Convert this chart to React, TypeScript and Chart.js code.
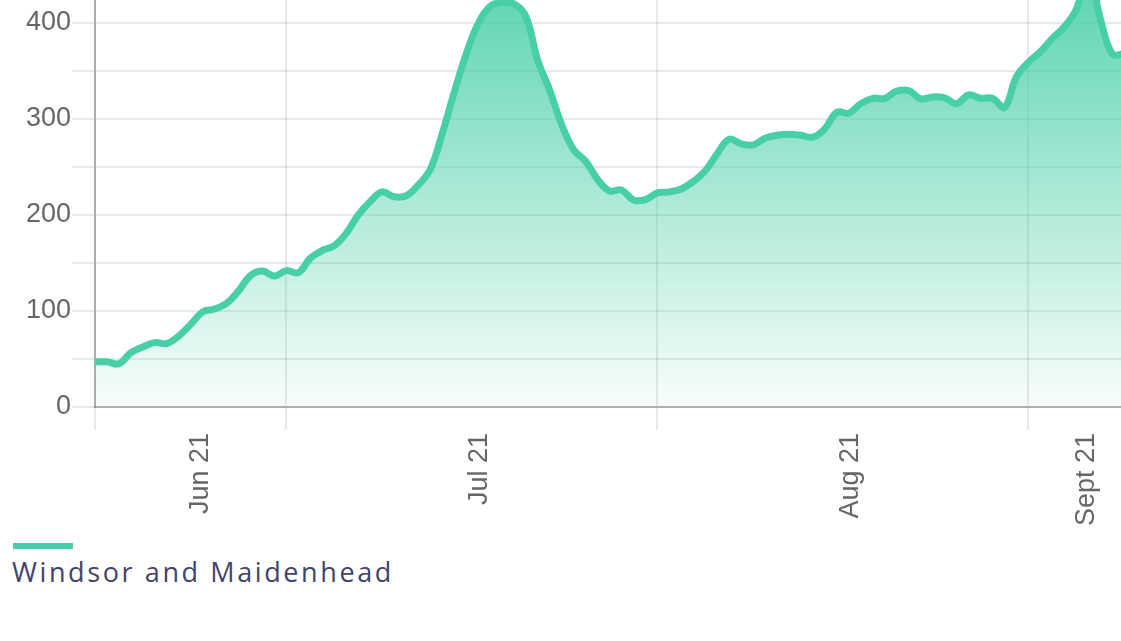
import React, { useEffect, useRef } from 'react';
import { Chart, registerables } from 'chart.js';

Chart.register(...registerables);

// ---- data ----
const seriesName = 'Windsor and Maidenhead';

const days = [
  0, 1, 2, 3, 4, 5, 6, 7, 8, 9,
  10, 11, 12, 13, 14, 15, 16, 17, 18, 19,
  20, 21, 22, 23, 24, 25, 26, 27, 28, 29,
  30, 31, 32, 33, 34, 35, 36, 37, 38, 39,
  40, 41, 42, 43, 44, 45, 46, 47, 48, 49,
  50, 51, 52, 53, 54, 55, 56, 57, 58, 59,
  60, 61, 62, 63, 64, 65, 66, 67, 68, 69,
  70, 71, 72, 73, 74, 75, 76, 77, 78, 79,
  80, 81, 82, 83, 84, 85, 86, 87, 88,
];

const rates = [
  47, 47, 45, 56.5, 62.5, 67, 66, 74, 86, 99,
  102, 108, 121, 137, 141.5, 136.5, 142, 140, 155, 163,
  168, 181, 200, 214, 224, 219, 220, 231, 247, 284,
  327, 367, 399, 417, 421.5, 420, 407, 361, 330, 294,
  268, 256, 237, 225, 226, 215.5, 216, 223, 224, 227,
  235, 246, 264, 279, 274, 273, 280, 283, 284, 283,
  281, 290, 307, 306, 316, 321.5, 321.5, 329, 329.5, 321,
  323, 322, 316, 325, 321.5, 321.5, 312, 344, 359, 370,
  384, 396, 414, 452, 405, 368, 368, 369, 370,
];

const xGridDays = [0, 16, 47, 78];
const monthLabels = ['Jun 21', 'Jul 21', 'Aug 21', 'Sept 21'];
const monthLabelDays = [8.8, 32.1, 63.1, 82.9];

const yGridValues = [0, 50, 100, 150, 200, 250, 300, 350, 400, 450, 500];
const yLabelValues = [0, 100, 200, 300, 400, 500];

// ---- styles ----
const LINE = '#48cfa7';
const GRID = 'rgba(0,0,0,0.09)';
const AXIS = 'rgba(0,0,0,0.25)';
const TICK_FONT = { family: '"Liberation Sans", Arial, Helvetica, sans-serif', size: 27 };

const near = (a: number, b: number) => Math.abs(a - b) < 1e-6;

export default function App() {
  const canvasRef = useRef<HTMLCanvasElement | null>(null);

  useEffect(() => {
    const canvas = canvasRef.current;
    if (!canvas) return;
    const xTickValues = [...xGridDays, ...monthLabelDays].sort((a, b) => a - b);
    const isGridDay = (v: number | undefined) =>
      v !== undefined && xGridDays.some((g) => near(g, v));
    const xColor = (ctx: any) => (isGridDay(ctx.tick?.value) ? GRID : 'rgba(0,0,0,0)');

    const chart = new Chart(canvas, {
      type: 'line',
      data: {
        datasets: [
          {
            label: seriesName,
            data: days.map((d, i) => ({ x: d, y: rates[i] })),
            borderColor: LINE,
            borderWidth: 7,
            pointRadius: 0,
            pointHoverRadius: 0,
            tension: 0.4,
            fill: 'origin',
            backgroundColor: (ctx: any) => {
              const { chart: c } = ctx;
              const area = c.chartArea;
              if (!area) return 'rgba(72,207,167,0.5)';
              const g = c.ctx.createLinearGradient(0, area.top, 0, area.bottom);
              g.addColorStop(0, 'rgba(72,207,167,1)');
              g.addColorStop(1, 'rgba(72,207,167,0.03)');
              return g;
            },
          },
        ],
      },
      options: {
        animation: false,
        responsive: true,
        maintainAspectRatio: false,
        layout: { padding: { top: 20, right: 0, bottom: 0, left: 0 } },
        plugins: {
          legend: { display: false },
          tooltip: { enabled: false },
        },
        scales: {
          x: {
            type: 'linear',
            min: 0,
            max: 90,
            afterBuildTicks: (scale: any) => {
              scale.ticks = xTickValues.map((v) => ({ value: v }));
            },
            ticks: {
              autoSkip: false,
              minRotation: 90,
              maxRotation: 90,
              padding: 3,
              color: '#666',
              font: TICK_FONT,
              callback: (v: any) => {
                const i = monthLabelDays.findIndex((d) => near(d, Number(v)));
                return i >= 0 ? monthLabels[i] : '';
              },
            },
            grid: {
              color: xColor,
              tickColor: xColor,
              lineWidth: 2,
              tickLength: 23,
            },
            border: { color: AXIS, width: 2 },
          },
          y: {
            type: 'linear',
            min: 0,
            max: 500,
            afterFit: (scale: any) => {
              scale.width = 95;
            },
            afterBuildTicks: (scale: any) => {
              scale.ticks = yGridValues.map((v) => ({ value: v }));
            },
            ticks: {
              padding: 1,
              color: '#666',
              font: TICK_FONT,
              callback: (v: any) => (yLabelValues.includes(Number(v)) ? String(v) : ''),
            },
            grid: {
              color: GRID,
              tickColor: GRID,
              lineWidth: 2,
              tickLength: 23,
            },
            border: { color: AXIS, width: 2 },
          },
        },
      },
    } as any);
    return () => chart.destroy();
  }, []);

  return (
    <div
      style={{
        position: 'absolute',
        left: 0,
        top: 0,
        width: 1121,
        height: 641,
        overflow: 'hidden',
        background: '#fff',
      }}
    >
      <div style={{ position: 'absolute', left: 0, top: -93, width: 1172, height: 622 }}>
        <canvas ref={canvasRef} />
      </div>
      <div
        style={{
          position: 'absolute',
          left: 13,
          top: 543,
          width: 60,
          height: 6,
          background: LINE,
        }}
      />
      <div
        style={{
          position: 'absolute',
          left: 12,
          top: 554,
          fontFamily: '"Open Sans", sans-serif',
          fontWeight: 400,
          fontSize: 27,
          lineHeight: '36px',
          letterSpacing: '2.6px',
          color: '#43436a',
          whiteSpace: 'nowrap',
        }}
      >
        {seriesName}
      </div>
    </div>
  );
}
